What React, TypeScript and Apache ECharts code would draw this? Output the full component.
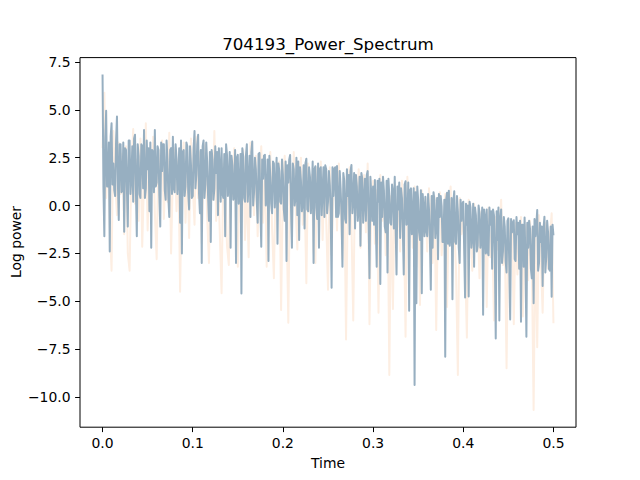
import React, { useEffect, useRef } from "react";
import * as echarts from "echarts";

const TITLE = "704193_Power_Spectrum";
const X_LABEL = "Time";
const Y_LABEL = "Log power";
const BLUE_STEP = 0.001;
const ORANGE_STEP = 0.002;
const X_TICKS = [0, 0.1, 0.2, 0.3, 0.4, 0.5];
const Y_TICKS = [-10, -7.5, -5, -2.5, 0, 2.5, 5, 7.5];
const X_MIN = -0.025;
const X_MAX = 0.525;
const Y_MIN = -11.58;
const Y_MAX = 7.73;

const BLUE_SERIES = [
  6.85, 0.9, -1.6, 3.5, 4.95, 1.0, 1.0, 3.3, -2.4, 3.6, 4.3, 1.1, 2.2, 0.8, 0.5, 3.4, 4.65, 1.2, -0.75, 3.2,
  3.2, 0.7, 0.8, 3.3, -1.37, 3.0, 2.9, 0.9, -1.1, 3.4, 3.4, 0.6, 1.5, 3.1, 0.2, 3.5, 3.7, 0.8, -1.6, 3.2,
  2.6, 0.6, 0.4, 3.2, 3.1, 0.9, 3.95, 0.4, 0.9, 3.4, 1.9, 3.0, -0.3, 3.3, -2.2, 2.9, 2.8, 0.7, 3.95, 1.0,
  1.2, 3.1, 2.9, 0.5, -1.1, 3.3, 1.8, 3.2, 3.2, 0.8, 0.3, 3.4, 2.4, 0.4, -0.6, 2.9, 3.0, 0.6, 3.6, 0.9,
  0.7, 3.2, 2.5, 0.6, 1.4, 3.0, -0.9, 3.4, -2.5, 2.8, 2.9, 0.5, 1.0, 3.3, 3.1, 0.7, -0.2, 3.1, 2.2, 0.4,
  0.5, 3.0, 3.9, 0.9, 1.6, 3.2, 3.7, 0.6, -0.4, 2.9, -3.0, 3.1, 3.4, 0.4, 1.1, 3.3, 2.3, 0.5, -0.8, 2.8,
  -1.9, 2.9, 2.4, 0.3, 0.9, 3.1, 1.7, 2.8, -0.5, 3.0, 2.0, 0.2, 3.0, 0.6, 0.4, 2.7, -1.6, 3.2, 2.65, 0.5,
  1.3, 2.8, -2.2, 2.6, 2.1, 0.3, 0.6, 2.9, -3.0, 2.5, 2.65, 0.1, 1.0, 2.7, -4.6, 3.0, 2.55, 0.4, 0.2, 2.6,
  3.2, 0.2, 1.1, 2.6, -0.6, 2.8, 3.35, 0.0, 0.7, 2.5, 1.9, 0.3, -0.9, 2.7, 2.75, 0.1, -2.15, 2.4, 1.4, 2.6,
  2.65, 0.0, 0.3, 2.4, -2.9, 2.6, 1.5, 0.1, -0.4, 2.3, 2.2, -0.1, 0.9, 2.5, -2.0, 2.2, 1.8, 0.2, 0.1, 2.4,
  1.6, -0.2, -0.8, 2.3, -2.9, 2.1, 1.2, 2.4, 2.64, -0.1, -2.2, 2.2, 1.9, 0.0, 0.4, 2.5, -0.5, 2.3, -1.8, 2.0,
  1.3, -0.3, 0.1, 2.1, -1.2, 2.2, 2.45, -0.2, -0.3, 2.0, 1.5, -0.4, 0.6, 2.3, -3.0, 1.9, 2.05, -0.1, -0.7, 2.2,
  -2.2, 1.9, 2.0, -0.5, 0.8, 2.0, -0.6, 2.1, 1.9, -0.4, 0.2, 1.8, 1.1, -0.3, -4.3, 2.0, 0.5, 1.9, 2.0, -0.6,
  2.07, -0.6, -0.4, 1.8, 0.9, -0.5, -3.2, 1.7, 1.3, -0.7, -0.9, 1.9, 0.5, 1.6, -1.5, 1.8, 2.12, -0.4, 0.4, 1.7,
  -1.2, 1.6, 1.0, -0.8, -0.1, 1.5, -2.1, 1.7, 1.4, -0.9, 0.3, 1.4, -0.8, 1.6, 1.8, -0.7, -3.8, 1.5, 0.6, -0.8,
  1.0, -1.0, 1.33, -0.9, -3.2, 1.3, 0.2, 1.4, -4.1, 1.2, -0.6, 1.5, 0.8, -1.1, -1.4, 1.3, -3.5, 1.4, 0.5, -0.9,
  -1.0, 1.1, 0.7, -1.2, 1.5, -1.1, -3.6, 1.0, -0.2, 1.2, -1.7, 0.9, 0.4, -1.3, -3.6, 1.1, 1.27, -1.0, -0.9, 1.2,
  -5.5, 0.8, 0.9, -1.5, -0.5, 0.9, -9.38, 0.7, -5.1, 1.0, 0.3, -1.4, -1.8, 0.8, -4.58, 0.6, -0.1, -1.6, 0.46, -1.3,
  -1.6, 0.6, -0.2, -1.8, -4.4, 0.5, -2.2, 0.7, 0.3, -1.7, -1.0, 0.4, -2.8, 0.6, -0.6, 0.5, -0.03, -1.9, -1.9, 0.3,
  -7.9, 0.3, 0.67, -2.0, 0.78, -2.1, -1.4, 0.4, -4.9, 0.2, 0.75, -1.9, -2.0, 0.5, -0.3, -2.2, -3.0, 0.3, -0.8, 0.1,
  0.2, -2.3, -4.8, 0.1, -1.0, 0.0, -4.75, 0.2, -0.1, -2.2, -1.6, 0.1, -3.2, -0.1, -0.5, -2.4, -2.1, 0.0, -0.4, -2.2,
  -1.2, -0.1, -5.7, -0.2, -0.6, -2.5, -0.2, -2.4, -2.6, -0.1, -1.0, -0.3, -3.3, -0.2, -0.5, -2.6, -6.94, -0.3, -1.8, -0.1,
  -6.0, -0.7, -0.2, -3.0, -2.4, -0.6, -1.1, -2.9, -3.5, -0.8, -0.67, -3.1, -5.95, -0.7, -1.4, -0.9, -0.77, -2.8, -2.9, -0.6,
  -1.5, -0.9, -3.3, -0.8, -6.07, -1.0, -1.0, -3.2, -0.63, -3.1, -6.85, -0.9, -2.2, -0.8, -1.2, -3.3, -3.8, -1.1, -5.1, -0.7,
  -1.6, -1.0, -0.23, -3.4, -3.0, -0.9, -1.9, -1.1, -4.2, -1.2, -0.58, -3.5, -2.7, -0.8, -1.4, -3.3, -3.4, -1.1, -4.76, -1.0, -1.55,
];

const ORANGE_SERIES = [
  3.0, 5.9, 0.4, 2.8, -0.9, -3.4, 3.9, 1.2, -0.5, 3.3,
  0.6, 2.7, -1.5, 3.1, -2.5, -3.4, 2.0, 4.0, 0.1, 2.4,
  -0.8, 3.5, -2.15, 1.4, 4.3, -1.3, 2.2, 0.5, 3.6, -0.4,
  -2.8, 2.9, 1.0, 3.4, -0.7, 2.1, 0.2, 3.8, -2.5, 1.6,
  3.0, -0.3, 2.4, -4.5, 1.2, 3.3, -0.9, 2.0, -1.7, 3.5,
  1.1, -1.0, 3.6, 0.4, 2.8, -2.0, 1.9, 3.2, -0.6, -3.0,
  2.5, 0.3, 3.9, -0.8, 1.6, -1.4, -4.58, 2.2, 0.8, -2.1,
  -3.1, 2.4, 0.5, 3.0, -1.1, -3.2, 1.8, -0.2, 2.9, -1.8,
  0.9, -2.7, 3.3, 1.2, -0.5, 2.6, -1.6, 1.5, 3.1, -0.9,
  2.0, -3.2, 0.8, 2.8, -1.2, -3.8, 1.6, -0.3, 2.3, -5.46,
  1.2, 2.6, -0.6, -6.12, 1.9, -1.5, 2.8, 0.1, -2.3, 1.4,
  2.5, -1.0, 0.7, -4.06, 2.2, -0.3, 1.6, -2.4, -3.0, 2.0,
  0.4, 2.3, -1.8, 1.2, -0.7, -4.4, 2.0, -2.6, 0.9, 1.8,
  -1.3, 2.2, 0.2, -2.8, 1.5, -7.0, 0.6, 2.0, -1.0, -6.0,
  1.4, -0.5, 1.9, -2.2, 0.3, 1.6, -1.4, 2.2, -6.2, 0.1,
  1.3, -2.0, 0.8, -5.6, 1.6, -0.8, 0.4, -2.6, 1.1, -8.85,
  0.5, -5.4, 1.2, -1.6, 0.2, -2.4, 1.3, -0.5, -6.85, 1.5,
  -0.9, 0.6, -2.2, 1.0, -3.2, 0.2, -5.2, 0.8, -1.6, 0.4,
  -2.4, 0.9, -0.8, -3.0, 0.5, -6.5, -0.4, 0.7, -2.6, -1.1,
  0.6, -5.3, -0.2, 1.0, -2.2, -0.8, -3.5, -8.85, 0.4, -1.5,
  -0.6, -2.9, -6.9, 0.3, -1.3, -3.4, 0.1, -2.0, -0.9, -3.8,
  -0.3, -1.9, -0.8, -5.3, -0.1, -2.7, -1.2, -6.0, -0.6, -2.3,
  -1.0, 0.3, -3.1, -1.6, -8.5, -0.7, -2.4, -1.1, -6.2, -0.9,
  -3.6, -1.5, -0.6, -5.8, -2.0, -1.0, -3.9, -0.8, -2.7, -10.68,
  -1.4, -7.4, -0.5, -2.8, -5.6, -1.2, -0.9, -3.3, -1.7, -0.4, -6.15,
];

const FONT = "DejaVu Sans";

const fmt = (v: number) => {
  const s = Math.abs(v).toFixed(1);
  return v < -1e-9 ? "\u2212" + s : s;
};

export default function App() {
  const ref = useRef<HTMLDivElement>(null);
  useEffect(() => {
    if (!ref.current) return;
    const chart = echarts.init(ref.current, null, { renderer: "svg" });
    const toPoints = (arr: number[], step: number) => arr.map((v, i) => [i * step, v]);
    chart.setOption({
      animation: false,
      backgroundColor: "#ffffff",
      grid: {
        left: 80,
        right: 64,
        top: 57.6,
        bottom: 52.8,
        show: true,
        borderColor: "#000000",
        borderWidth: 1,
        backgroundColor: "transparent",
        containLabel: false,
      },
      xAxis: {
        type: "value",
        min: X_MIN,
        max: X_MAX,
        splitLine: { show: false },
        axisLine: { show: false, onZero: false },
        axisTick: {
          show: true,
          customValues: X_TICKS,
          length: 4.9,
          lineStyle: { color: "#000000", width: 1 },
        },
        axisLabel: {
          customValues: X_TICKS,
          formatter: (v: number) => fmt(v),
          color: "#000000",
          fontSize: 13.9,
          fontFamily: FONT,
          margin: 9,
        },
      },
      yAxis: {
        type: "value",
        min: Y_MIN,
        max: Y_MAX,
        splitLine: { show: false },
        axisLine: { show: false, onZero: false },
        axisTick: {
          show: true,
          customValues: Y_TICKS,
          length: 4.9,
          lineStyle: { color: "#000000", width: 1 },
        },
        axisLabel: {
          customValues: Y_TICKS,
          formatter: (v: number) => fmt(v),
          color: "#000000",
          fontSize: 13.9,
          fontFamily: FONT,
          margin: 9.5,
        },
      },
      series: [
        {
          type: "line",
          data: toPoints(ORANGE_SERIES, ORANGE_STEP),
          symbol: "none",
          showSymbol: false,
          silent: true,
          z: 2,
          lineStyle: { color: "#fdeee2", width: 2, join: "round" },
        },
        {
          type: "line",
          data: toPoints(BLUE_SERIES, BLUE_STEP),
          symbol: "none",
          showSymbol: false,
          silent: true,
          z: 3,
          lineStyle: { color: "#97afc1", width: 2, join: "round" },
        },
      ],
      graphic: [
        {
          type: "text",
          x: 328,
          y: 44,
          style: {
            text: TITLE,
            fontSize: 16.7,
            fontFamily: FONT,
            fill: "#000000",
            align: "center",
            verticalAlign: "middle",
          },
        },
        {
          type: "text",
          x: 328,
          y: 463,
          style: {
            text: X_LABEL,
            fontSize: 13.9,
            fontFamily: FONT,
            fill: "#000000",
            align: "center",
            verticalAlign: "middle",
          },
        },
        {
          type: "text",
          x: 16,
          y: 242,
          rotation: Math.PI / 2,
          style: {
            text: Y_LABEL,
            fontSize: 13.9,
            fontFamily: FONT,
            fill: "#000000",
            align: "center",
            verticalAlign: "middle",
          },
        },
      ],
    });
    return () => chart.dispose();
  }, []);
  return (
    <div
      ref={ref}
      style={{ position: "fixed", left: 0, top: 0, width: 640, height: 480, background: "#fff" }}
    />
  );
}
